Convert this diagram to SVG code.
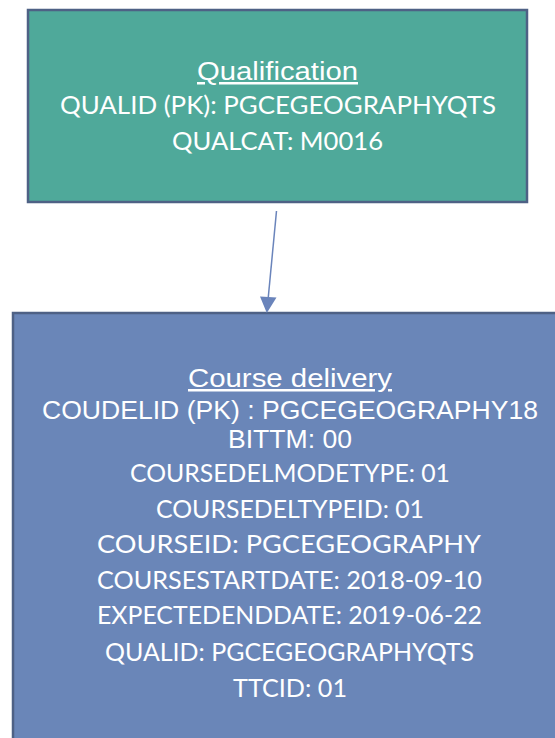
<svg xmlns="http://www.w3.org/2000/svg" width="555" height="738" viewBox="0 0 555 738">
<style>
.t{fill:#ffffff;text-anchor:middle}
.a{font-family:"Liberation Sans",Arial,sans-serif;font-size:25px}
.c{font-family:Lato,"Open Sans",sans-serif;font-size:25px}
.u{text-decoration:underline}
.box{stroke:#4E6185;stroke-width:2.5}
.con{stroke:#6A84BB;stroke-width:1.5;fill:none}
.head{fill:#6A84BB}
</style>
<rect width="555" height="738" fill="#ffffff"/>
<g id="qualification">
<rect class="box" x="28" y="10" width="499" height="192" fill="#4FA99A"/>
<text class="t a u" x="277.5" y="80" textLength="161" lengthAdjust="spacingAndGlyphs">Qualification</text>
<text class="t c" x="278" y="114" textLength="436" lengthAdjust="spacingAndGlyphs">QUALID (PK): PGCEGEOGRAPHYQTS</text>
<text class="t c" x="277.5" y="150" textLength="211" lengthAdjust="spacingAndGlyphs">QUALCAT: M0016</text>
</g>
<g id="course-delivery">
<rect class="box" x="13" y="313" width="560" height="440" fill="#6A86B8"/>
<text class="t a u" x="290" y="387" textLength="204" lengthAdjust="spacingAndGlyphs">Course delivery</text>
<text class="t a" x="290" y="419" textLength="496" lengthAdjust="spacingAndGlyphs">COUDELID (PK) : PGCEGEOGRAPHY18</text>
<text class="t a" x="290" y="448" textLength="124" lengthAdjust="spacingAndGlyphs">BITTM: 00</text>
<text class="t c" x="290" y="482" textLength="320" lengthAdjust="spacingAndGlyphs">COURSEDELMODETYPE: 01</text>
<text class="t c" x="290" y="518" textLength="268" lengthAdjust="spacingAndGlyphs">COURSEDELTYPEID: 01</text>
<text class="t c" x="289" y="553" textLength="384" lengthAdjust="spacingAndGlyphs">COURSEID: PGCEGEOGRAPHY</text>
<text class="t c" x="289.5" y="589" textLength="385" lengthAdjust="spacingAndGlyphs">COURSESTARTDATE: 2018-09-10</text>
<text class="t c" x="289.5" y="624" textLength="385" lengthAdjust="spacingAndGlyphs">EXPECTEDENDDATE: 2019-06-22</text>
<text class="t c" x="289.5" y="661" textLength="369" lengthAdjust="spacingAndGlyphs">QUALID: PGCEGEOGRAPHYQTS</text>
<text class="t c" x="290" y="697" textLength="114" lengthAdjust="spacingAndGlyphs">TTCID: 01</text>
</g>
<g id="connectors">
<path class="con" d="M276.5,211 L268.2,298"/>
<path class="head" d="M260,296.5 L276.5,297.5 L266.8,313 z"/>
</g>
</svg>
